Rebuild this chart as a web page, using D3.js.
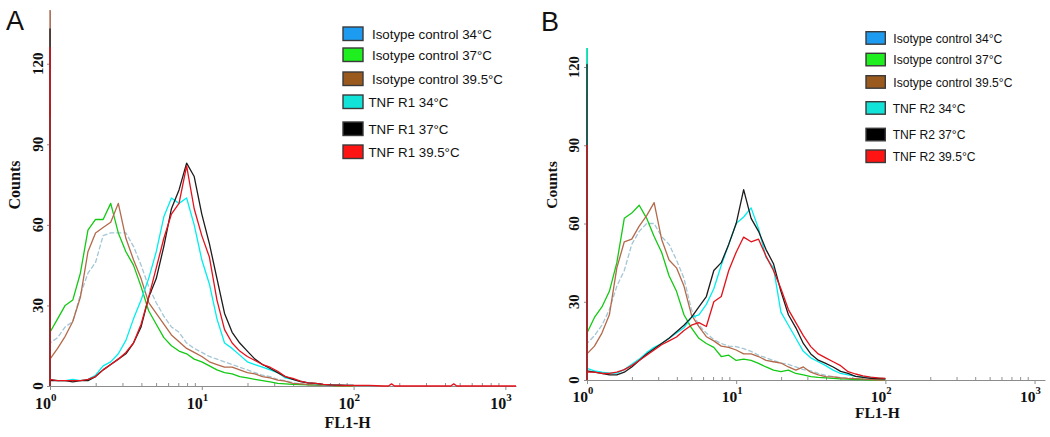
<!DOCTYPE html>
<html><head><meta charset="utf-8">
<script src="https://cdn.jsdelivr.net/npm/d3@7"></script>
<style>body{margin:0;background:#fff}</style></head>
<body><svg id="c" width="1050" height="437"></svg>
<script>
// ---------------- DATA ----------------
// channel positions (log10 of FL1-H)
const binsLog = [0,0.05,0.1,0.15,0.2,0.25,0.3,0.35,0.4,0.45,0.5,0.55,0.6,0.65,0.7,0.75,0.8,0.85,0.9,0.95,1.0,
                 1.05,1.1,1.15,1.2,1.25,1.3,1.35,1.4,1.45,1.5,1.55,1.6,1.65,1.7,1.75,1.8,1.85,1.9,1.95,2.0];
const seriesKeys = ["iso34","iso37","iso395","tnf34","tnf37","tnf395"];
const legendLabelsA = ["Isotype control 34\u00B0C","Isotype control 37\u00B0C","Isotype control 39.5\u00B0C","TNF R1 34\u00B0C","TNF R1 37\u00B0C","TNF R1 39.5\u00B0C"];
const legendLabelsB = ["Isotype control 34\u00B0C","Isotype control 37\u00B0C","Isotype control 39.5\u00B0C","TNF R2 34\u00B0C","TNF R2 37\u00B0C","TNF R2 39.5\u00B0C"];
const yTickValues = [0,30,60,90,120];
const xTickValues = [1,10,100,1000];
const xTickExponents = ["0","1","2","3"];

// Panel A (TNF R1) counts
const isoA34  = [16,18,22,24,34,42,46,56,57,57,57,52,45,37,31,26,22,20,16,14,12.5,11,10,9,8,7,6,5,4,3.5,2.5,2,1.2,0.8,0.5,0.4,0.3,0.2,0,0,0];
const isoA37  = [20,25,30,32,42,58,62,62,68,57,50,45,37,28,23,18,15,13,12,10,9,7.5,6,5,4.5,3.5,3,2.5,2,1.5,1,0.8,0.6,0.5,0.4,0.3,0.2,0.2,0,0,0];
const isoA395 = [10,14,18.5,24,33,50,57,59,61,68,55,47,40,31,27,23,19,16.5,14,12.5,11,9,8,7,7,6,5,4.5,3.5,3,2.2,1.8,1,0.8,0.5,0.4,0.3,0.2,0,0,0];
const tnfA34  = [2.5,2,2,2.5,2,2.5,4,7.5,9,12,17,25,32,40,50,63,70,68,70,60,47,38,25,16,14,11.5,9,8,7,6,5,3,2.5,1.8,1.2,0.8,0.5,0.4,0.3,0.2,0.2];
const tnfA37  = [2,2,2,1.5,2,2,3.5,6,8,10,12,16,22,33,40,52,66,73,83,78,64,53,40,27,20,16,13,10,8,6.5,5,3.5,2.5,1.6,1.2,1,0.6,0.4,0.3,0.2,0.2];
const tnfA395 = [2.5,2,2,2,2,2.5,3.5,6,8,10,12.5,16,23,33,44,55,64,68,82,66,56,48,32,21,16,13,11,9.5,8,7,5.5,3.5,2.8,1.8,1.2,1,0.6,0.4,0.3,0.2,0.2];
const spikeA  = [118,105,141,100,133,126];
const tailALog = [2.1,2.2,2.23,2.25,2.27,2.5,2.64,2.66,2.68,3.07];
const tailARed = [0.2,0,0,0.8,0,0,0,0.8,0,0];

// Panel B (TNF R2) counts
const isoB34  = [14,17,21,27,36,42,52,57,60,60,55,52,46,39,27,21,18,15.5,14,13,12.8,12,11,9.5,8.5,7.5,6.5,6,5,4,3.5,2.5,1.8,1.3,1,0.7,0.5,0.3,0.2,0,0];
const isoB37  = [18,24,28,34,45,62,64,67,62,55,49,40,34,25,20,16,14,12.5,9,9.5,7.5,8,7.5,6.4,5,3.8,3.2,3.8,2.5,2,1.3,1,0.8,0.6,0.4,0.3,0.2,0.2,0,0,0];
const isoB395 = [10,13,18,25,43,53,54,59,63,68,54,46,43,36,25,20.5,16.6,15,13,12.5,11.5,10,10,9,7.5,7,6.5,5,3.8,5,3,2,1.3,1.2,0.8,0.6,0.5,0.3,0.2,0,0];
const tnfB34  = [4.5,3.5,3,2.6,2.6,4,6,8,10.5,12.5,14,16,18,20,24,25,29,35,44,52,60,62.5,66,58,47,43,26,21,16,11,8.5,7,5.5,3.8,2.5,2,1.5,1.2,1,0.7,0.5];
const tnfB37  = [3.5,3,2.5,2,2,3,5,7.5,10,12,14,16,18.5,21,24,28,32,42,45,52,60,73,62,57,50,44.6,34,25,20,14,10,7.6,6.4,5,3.3,2.5,1.4,1,0.6,0.5,0.4];
const tnfB395 = [3,3,2.5,2.5,3,4,5.5,7.5,9.5,11.5,13.5,15,16.5,19,21,22,20.5,30,32,42,49,54.8,53,54,47.5,42,35,27,22,17,12.8,10,8.5,7,5.5,3.2,2.3,1.6,1.1,0.8,0.6];
const spikeB  = [100,127.3,110,127.3,121,90];

// ---------------- STYLE ----------------
const lineColors = {iso34:"#a3c6d6", iso37:"#13c913", iso395:"#b3694a", tnf34:"#00eeee", tnf37:"#1c1c1c", tnf395:"#e3121b"};
const swatchColors = {iso34:"#1d9bf0", iso37:"#1fee1f", iso395:"#9a5a1e", tnf34:"#12e3d8", tnf37:"#000000", tnf395:"#ff1414"};
const serif = "'Liberation Serif','Times New Roman',serif";
const sans = "'Liberation Sans',Arial,sans-serif";

const svg = d3.select("#c");
svg.append("rect").attr("width",1050).attr("height",437).attr("fill","#fff");

function drawPanel(cfg){
  const x = d3.scaleLog().domain([1, Math.pow(10,3.07)]).range([cfg.x0, cfg.x1]);
  const y = d3.scaleLinear().domain([0, cfg.ymax]).range([cfg.y0, cfg.y1]);
  const g = svg.append("g");
  const clipId = "clip"+cfg.name;
  svg.append("clipPath").attr("id",clipId).append("rect")
     .attr("x",cfg.x0-1).attr("y",cfg.y1).attr("width",cfg.x1-cfg.x0+2).attr("height",cfg.y0-cfg.y1+1);

  // minor x ticks (inward)
  const minor = [];
  [1,10,100].forEach(d=>{for(let k=2;k<=9;k++) minor.push(d*k);});
  const gMinor = g.append("g").attr("transform",`translate(0,${cfg.y0})`)
     .call(d3.axisBottom(x).tickValues(minor).tickSize(-3).tickSizeOuter(0).tickFormat(""));
  gMinor.select(".domain").remove();
  gMinor.selectAll("line").attr("stroke","#909090");

  // major x axis
  const gx = g.append("g").attr("transform",`translate(0,${cfg.y0})`)
     .call(d3.axisBottom(x).tickValues(xTickValues).tickSize(4).tickSizeOuter(0).tickFormat(""));
  gx.select(".domain").attr("stroke","#8c8c8c");
  gx.selectAll("line").attr("stroke","#8c8c8c");

  // x tick labels 10^n
  xTickValues.forEach((v,i)=>{
    const px = x(v);
    g.append("text").attr("x",px+1).attr("y",cfg.y0+cfg.xLabDy).attr("text-anchor","end")
      .attr("font-family",serif).attr("font-weight","bold").attr("font-size",cfg.fs*16).attr("fill","#111").text("10");
    g.append("text").attr("x",px+1).attr("y",cfg.y0+cfg.xLabDy-8*cfg.fs).attr("text-anchor","start")
      .attr("font-family",serif).attr("font-weight","bold").attr("font-size",cfg.fs*11).attr("fill","#111").text(xTickExponents[i]);
  });
  g.append("text").attr("x",x(100)-cfg.titleShift).attr("y",cfg.y0+cfg.xTitleDy).attr("text-anchor","middle")
    .attr("font-family",serif).attr("font-weight","bold").attr("font-size",cfg.fs*16).attr("fill","#111").text("FL1-H");

  // y axis
  const gy = g.append("g").attr("transform",`translate(${cfg.x0},0)`)
     .call(d3.axisLeft(y).tickValues(yTickValues).tickSize(3).tickSizeOuter(0).tickFormat(""));
  gy.select(".domain").attr("stroke","#8c8c8c");
  gy.selectAll("line").attr("stroke","#8c8c8c");
  yTickValues.forEach(v=>{
    const py = y(v), px = cfg.x0 - cfg.yLabDx;
    g.append("text").attr("transform",`translate(${px},${py}) rotate(-90)`).attr("text-anchor","middle")
      .attr("font-family",serif).attr("font-weight","bold").attr("font-size",cfg.fs*15).attr("fill","#111").text(v);
  });
  g.append("text").attr("transform",`translate(${cfg.x0-30},${185}) rotate(-90)`).attr("text-anchor","middle")
    .attr("font-family",serif).attr("font-weight","bold").attr("font-size",cfg.fs*16).attr("fill","#111").text("Counts");

  // panel letter
  g.append("text").attr("x",cfg.letterX).attr("y",cfg.letterY).attr("font-family",sans)
    .attr("font-size",27).attr("fill","#111").text(cfg.name);

  // histograms
  const line = d3.line().x(d=>x(d[0])).y(d=>y(d[1]));
  const plot = g.append("g").attr("clip-path",`url(#${clipId})`);
  seriesKeys.forEach((k,si)=>{
    const vals = cfg.series[k];
    const pts = [[1,0],[1,cfg.spikes[si]]];
    binsLog.forEach((lg,i)=>pts.push([Math.pow(10,lg), vals[i]]));
    if(cfg.tail && cfg.tail[k]) cfg.tail.log.forEach((lg,i)=>pts.push([Math.pow(10,lg), cfg.tail[k][i]]));
    plot.append("path").attr("d",line(pts)).attr("fill","none")
      .attr("stroke",lineColors[k]).attr("stroke-width",1.3).attr("stroke-linejoin","round")
      .attr("stroke-dasharray", k==="iso34" ? "5,2" : null);
  });

  // legend
  const L = cfg.legend;
  seriesKeys.forEach((k,i)=>{
    g.append("rect").attr("x",L.x).attr("y",L.tops[i]).attr("width",L.w).attr("height",L.h)
      .attr("fill",swatchColors[k]).attr("stroke","#3a3a3a").attr("stroke-width",1.4);
    g.append("text").attr("x", i<3 ? L.tx1 : L.tx2).attr("y",L.tops[i]+L.base)
      .attr("font-family",sans).attr("font-size",L.fs).attr("fill","#111").text(cfg.labels[i]);
  });
}

drawPanel({name:"A", x0:50, x1:516, y0:386, y1:10, ymax:140, fs:1, xLabDy:23, xTitleDy:42, titleShift:6, yLabDx:7,
  letterX:6, letterY:30,
  series:{iso34:isoA34, iso37:isoA37, iso395:isoA395, tnf34:tnfA34, tnf37:tnfA37, tnf395:tnfA395},
  spikes:spikeA, tail:{log:tailALog, tnf395:tailARed}, labels:legendLabelsA,
  legend:{x:343, w:20, h:13.5, tops:[27,48,72,95,122,145], base:11.5, tx1:372, tx2:368.5, fs:13.3}});

drawPanel({name:"B", x0:587, x1:1045, y0:380, y1:48, ymax:127.3, fs:0.97, xLabDy:22, xTitleDy:38, titleShift:8, yLabDx:8,
  letterX:541, letterY:31,
  series:{iso34:isoB34, iso37:isoB37, iso395:isoB395, tnf34:tnfB34, tnf37:tnfB37, tnf395:tnfB395},
  spikes:spikeB, tail:null, labels:legendLabelsB,
  legend:{x:866, w:19.3, h:12.5, tops:[31.7,53.3,75.7,101.7,128.3,150], base:10.8, tx1:893.3, tx2:892.7, fs:12.1}});
</script></body></html>
